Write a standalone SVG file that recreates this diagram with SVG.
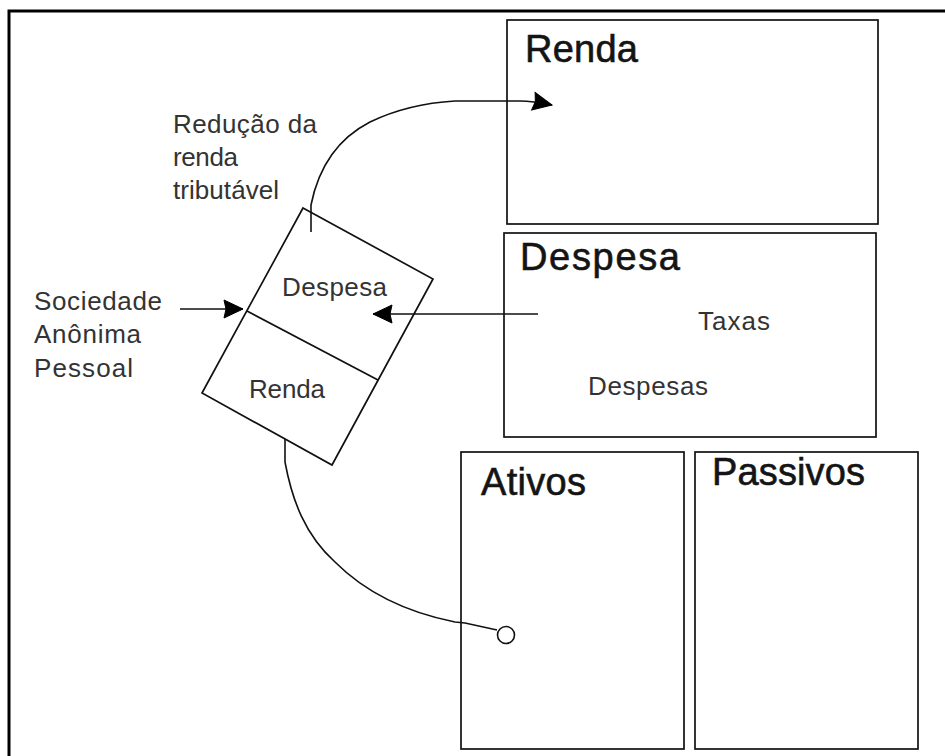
<svg xmlns="http://www.w3.org/2000/svg" width="945" height="756" viewBox="0 0 945 756">
<style>
.box{fill:none;stroke:#111;stroke-width:1.7}
.frame{fill:none;stroke:#000;stroke-width:3}
.h{font-family:"Liberation Sans",Arial,sans-serif;font-size:38px;fill:#141414;stroke:#141414;stroke-width:0.6}
.t{font-family:"Liberation Sans",Arial,sans-serif;font-size:26px;fill:#333}
.c{fill:none;stroke:#111;stroke-width:1.6}
</style>
<defs>
<marker id="ah" markerUnits="userSpaceOnUse" markerWidth="24" markerHeight="24" refX="19" refY="10" orient="auto" overflow="visible">
<path d="M0,1 L19,10 L0,19 L2,10 Z" fill="#000" stroke="#000" stroke-width="1"/>
</marker>
</defs>
<rect width="945" height="756" fill="#fff"/>
<rect class="frame" x="9" y="11" width="950" height="760"/>
<g id="renda">
<rect class="box" x="507" y="20" width="371" height="204"/>
<text class="h" x="525" y="62" textLength="113">Renda</text>
</g>
<g id="despesa">
<rect class="box" x="504" y="233" width="372" height="204"/>
<text class="h" x="520" y="270" textLength="160">Despesa</text>
<text class="t" x="698" y="330" textLength="72">Taxas</text>
<text class="t" x="588" y="395" textLength="120">Despesas</text>
</g>
<g id="ativos">
<rect class="box" x="461" y="452" width="223" height="297"/>
<text class="h" x="481" y="495" textLength="105">Ativos</text>
</g>
<g id="passivos">
<rect class="box" x="695" y="452" width="223" height="297"/>
<text class="h" x="712" y="485" textLength="153">Passivos</text>
</g>
<g id="entidade">
<polygon class="box" points="303,208 433,279 332,465 202,393"/>
<line class="box" x1="247" y1="311" x2="378" y2="380"/>
<text class="t" x="282" y="296" textLength="105">Despesa</text>
<text class="t" x="249" y="398" textLength="76">Renda</text>
</g>
<g id="labels">
<text class="t" x="173" y="133" textLength="144">Redução da</text>
<text class="t" x="173" y="166" textLength="65">renda</text>
<text class="t" x="173" y="199" textLength="106">tributável</text>
<text class="t" x="34" y="310" textLength="128">Sociedade</text>
<text class="t" x="34" y="343" textLength="107">Anônima</text>
<text class="t" x="34" y="377" textLength="99">Pessoal</text>
</g>
<g id="connectors">
<path class="c" d="M311,232 L311,205 C318,170 335,140 370,122 C395,110 420,103 455,101 L520,101 C532,101 542,103 552,105" marker-end="url(#ah)"/>
<line class="c" x1="180" y1="309" x2="243" y2="309" marker-end="url(#ah)"/>
<line class="c" x1="538" y1="314" x2="373" y2="314" marker-end="url(#ah)"/>
<path class="c" d="M285,439 L285,462 C292,500 305,535 335,562 C365,592 405,612 455,622 L465,623 L497,630"/>
<circle class="c" cx="506" cy="635" r="8.5"/>
</g>
</svg>
